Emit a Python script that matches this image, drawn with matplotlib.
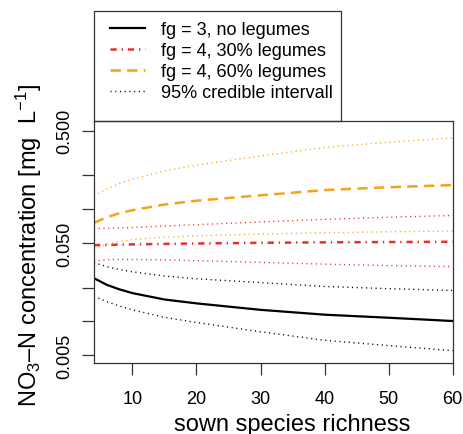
import matplotlib
matplotlib.use("Agg")
import matplotlib.pyplot as plt
from matplotlib.patches import Rectangle

plt.rcParams["font.family"] = ["Liberation Sans", "DejaVu Sans"]
plt.rcParams["mathtext.fontset"] = "custom"
plt.rcParams["mathtext.rm"] = "Liberation Sans"
plt.rcParams["mathtext.it"] = "Liberation Sans:italic"
plt.rcParams["lines.scale_dashes"] = False

# sown species richness
richness = [4, 6, 8, 10, 15, 20, 30, 40, 50, 60]

# fg = 3, no legumes
fg3_mean = [0.0243, 0.0212, 0.0193, 0.0179, 0.0157, 0.0145, 0.0127, 0.0115, 0.0108, 0.0101]
fg3_upper = [0.0334, 0.0308, 0.0290, 0.0277, 0.0254, 0.0240, 0.0222, 0.0205, 0.0196, 0.0189]
fg3_lower = [0.0168, 0.0150, 0.0137, 0.0127, 0.0109, 0.0098, 0.0081, 0.0068, 0.0061, 0.0055]

# fg = 4, 30% legumes
leg30_mean = [0.0478, 0.0481, 0.0484, 0.0486, 0.0491, 0.0495, 0.0502, 0.0507, 0.0510, 0.0513]
leg30_upper = [0.0671, 0.0676, 0.0682, 0.0688, 0.0708, 0.0728, 0.0770, 0.0812, 0.0848, 0.0879]
leg30_lower = [0.0345, 0.0355, 0.0357, 0.0357, 0.0354, 0.0348, 0.0336, 0.0324, 0.0315, 0.0308]

# fg = 4, 60% legumes
leg60_mean = [0.0755, 0.0848, 0.0922, 0.0980, 0.110, 0.119, 0.133, 0.148, 0.157, 0.164]
leg60_upper = [0.131, 0.152, 0.170, 0.185, 0.219, 0.247, 0.298, 0.355, 0.395, 0.431]
leg60_lower = [0.0449, 0.0486, 0.0515, 0.0537, 0.0564, 0.0580, 0.0600, 0.0617, 0.0629, 0.0639]

legend_labels = [
    "fg = 3, no legumes",
    "fg = 4, 30% legumes",
    "fg = 4, 60% legumes",
    "95% credible intervall",
]
ytick_values = [0.005, 0.01, 0.02, 0.05, 0.1, 0.2, 0.5]
ytick_labels = ["0.005", "", "", "0.050", "", "", "0.500"]
xtick_values = [10, 20, 30, 40, 50, 60]

RED = "#E8302A"
ORANGE = "#F7A21B"
DOT = (0, (0.8, 2.6))

W, H = 464, 435
fig = plt.figure(figsize=(W / 100, H / 100), dpi=100)
ax = fig.add_axes([94 / W, 1 - 364 / H, 358.7 / W, 242 / H])

h_mean, = ax.plot(richness, fg3_mean, color="black", lw=1.6)
ax.plot(richness, fg3_upper, color="black", lw=1.0, linestyle=DOT)
ax.plot(richness, fg3_lower, color="black", lw=1.0, linestyle=DOT)

h_30, = ax.plot(richness, leg30_mean, color=RED, lw=1.8, dashes=(4.5, 3.5, 1.0, 3.5))
ax.plot(richness, leg30_upper, color=RED, lw=1.0, linestyle=DOT)
ax.plot(richness, leg30_lower, color=RED, lw=1.0, linestyle=DOT)

h_60, = ax.plot(richness, leg60_mean, color=ORANGE, lw=1.8, dashes=(7.5, 4.5))
ax.plot(richness, leg60_upper, color=ORANGE, lw=1.0, linestyle=DOT)
ax.plot(richness, leg60_lower, color=ORANGE, lw=1.0, linestyle=DOT)

h_ci, = ax.plot([], [], color="black", lw=1.0, linestyle=DOT)

ax.set_yscale("log")
ax.set_xlim(4, 60)
ax.set_ylim(0.00427, 0.61)
ax.set_yticks(ytick_values)
ax.set_yticklabels(ytick_labels, rotation=90, va="center")
ax.minorticks_off()
ax.set_xticks(xtick_values)
ax.tick_params(direction="out", length=8.6, width=0.9, labelsize=13, color="#333333")
ax.tick_params(axis="x", pad=10.5)
ax.tick_params(axis="y", pad=6)
for s in ax.spines.values():
    s.set_linewidth(0.9)
    s.set_color("#333333")

ax.set_xlabel("sown species richness", fontsize=17)
ax.xaxis.set_label_coords(0.552, -0.205)
ax.set_ylabel(r"NO$_{\mathregular{3}}$–N concentration [mg  L$^{\mathregular{-1}}$]", fontsize=17)
ax.yaxis.set_label_coords(-0.14, 0.49)

fig.add_artist(Rectangle((94 / W, 1 - 122 / H), 247 / W, 110 / H, transform=fig.transFigure,
                         fill=False, edgecolor="#333333", lw=0.9))
fig.legend([h_mean, h_30, h_60, h_ci], legend_labels, loc="upper left",
           bbox_to_anchor=(110 / W, 1 - 22 / H), frameon=False, fontsize=13,
           borderpad=0, borderaxespad=0, handlelength=1.95, handletextpad=0.85,
           labelspacing=0.22)

fig.savefig("out.png", dpi=100)
